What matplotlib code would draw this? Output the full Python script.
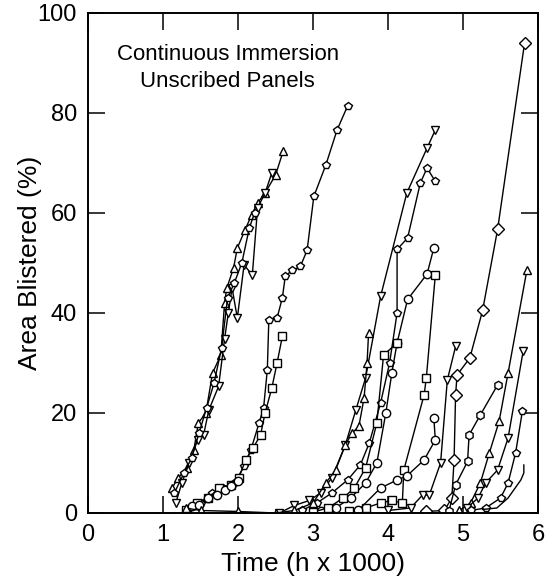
import matplotlib.pyplot as plt

plt.rcParams['font.family'] = ['Liberation Sans', 'DejaVu Sans']

# area blistered (%) vs time (h x 1000), one list pair per panel
a1_x = [1.12, 1.20, 1.32, 1.41, 1.47, 1.57, 1.66, 1.77, 1.82, 1.85, 1.94, 1.99, 2.09, 2.18, 2.26, 2.36, 2.50, 2.60]
a1_y = [5, 7, 9, 12.6, 18, 20, 28, 31.6, 42, 45, 49, 53, 56.5, 59.6, 62, 64, 67.6, 72.3]
a2_x = [1.17, 1.25, 1.35, 1.46, 1.54, 1.61, 1.74, 1.82, 1.87, 1.92, 1.99, 2.08, 2.19, 2.26, 2.36, 2.45]
a2_y = [2, 6, 10, 14.6, 15.6, 20.6, 25.3, 34.8, 40, 45, 39, 49.6, 47.6, 61, 64, 68]
a3_x = [1.15, 1.28, 1.38, 1.48, 1.58, 1.68, 1.78, 1.86, 1.95, 2.05, 2.15, 2.22]
a3_y = [4, 8, 11, 16, 21, 26, 33, 43, 46, 50, 57, 60]

b1_x = [1.35, 1.50, 1.65, 1.80, 1.95, 2.08, 2.17, 2.28, 2.34, 2.39, 2.41, 2.52, 2.59, 2.63, 2.72,
        2.83, 2.92, 3.01, 3.17, 3.32, 3.46]
b1_y = [1, 2, 4, 5, 6, 9.3, 12.6, 18, 21, 28.6, 38.6, 39, 43, 47.4, 48.5, 49.3, 52.5, 63.3, 69.6, 76.6, 81.4]
b2_x = [1.30, 1.45, 1.60, 1.75, 1.90, 2.01, 2.10, 2.20, 2.30, 2.36, 2.45, 2.52, 2.59]
b2_y = [0.5, 2, 3, 5, 5.6, 7, 10.6, 13, 15.6, 20, 25, 30, 35.3]
b3_x = [1.38, 1.48, 1.60, 1.72, 1.82, 1.90, 2.00]
b3_y = [1.3, 1.6, 3, 3.6, 4.5, 5.3, 6.3]

c1_x = [2.55, 2.75, 2.95, 3.10, 3.25, 3.43, 3.57, 3.70, 3.90, 4.25, 4.52, 4.63]
c1_y = [0, 1.5, 2.5, 4, 7, 13.6, 20.6, 27, 43.3, 64, 73, 76.6]
c2_x = [2.85, 3.05, 3.25, 3.46, 3.63, 3.75, 3.90, 4.02, 4.12, 4.12, 4.26, 4.43, 4.52, 4.63]
c2_y = [0.5, 2, 4, 6.6, 9.6, 14, 22, 30, 40, 52.7, 55, 66, 69, 66.3]
c3_x = [3.10, 3.30, 3.50, 3.70, 3.85, 3.97, 4.05, 4.12, 4.26, 4.52, 4.61]
c3_y = [0.3, 1, 3, 6, 10, 20, 28, 34, 42.7, 47.8, 53]
c4_x = [3.48, 3.70, 3.90, 4.05, 4.19, 4.21, 4.48, 4.51, 4.63]
c4_y = [0.3, 1, 2, 2.5, 2, 8.6, 23.6, 27, 47.6]
c5_x = [1.30, 1.50, 2.00, 2.50, 2.75, 3.00, 3.17, 3.30, 3.43, 3.52, 3.61, 3.68, 3.72, 3.74]
c5_y = [1, 0.5, 0.3, 0, 0.5, 2, 6, 8.6, 13.6, 16, 17.3, 23, 30, 36]
c6_x = [3.00, 3.20, 3.40, 3.55, 3.70, 3.85, 3.94, 4.12]
c6_y = [0.2, 1, 3, 5, 9, 18, 31.6, 34]

d1_x = [4.50, 4.75, 4.85, 4.88, 4.90, 4.92, 5.09, 5.26, 5.46, 5.82]
d1_y = [0.3, 0.5, 3, 10.6, 23.6, 27.6, 31, 40.5, 56.7, 94]
d2_x = [4.95, 5.10, 5.23, 5.35, 5.48, 5.60, 5.85]
d2_y = [0.5, 2, 6, 12, 18.3, 28, 48.5]
d3_x = [5.05, 5.20, 5.30, 5.46, 5.60, 5.80]
d3_y = [1, 3, 6, 8.6, 15, 32.3]
d4_x = [5.10, 5.30, 5.50, 5.60, 5.70, 5.79]
d4_y = [0.5, 1, 3, 6, 12, 20.3]
d5_x = [5.26, 5.45, 5.60, 5.77, 5.81, 5.81]
d5_y = [0.7, 1, 3, 6.6, 8, 9.6]
d6_x = [4.00, 4.30, 4.46, 4.55, 4.70, 4.79, 4.90]
d6_y = [0.5, 1, 3.6, 3.6, 10, 26.6, 33.3]
d7_x = [3.60, 3.90, 4.12, 4.25, 4.48, 4.63, 4.61]
d7_y = [0.5, 5, 6.6, 7.4, 10.6, 14.6, 19]
d8_x = [4.81, 4.90, 5.06, 5.08, 5.23, 5.46]
d8_y = [0.3, 5.6, 10.3, 15.6, 19.6, 25.6]

series = [
    (a1_x, a1_y, '^'), (a2_x, a2_y, 'v'), (a3_x, a3_y, 'p'),
    (b1_x, b1_y, 'p'), (b2_x, b2_y, 's'), (b3_x, b3_y, 'o'),
    (c1_x, c1_y, 'v'), (c2_x, c2_y, 'p'), (c3_x, c3_y, 'o'),
    (c4_x, c4_y, 's'), (c5_x, c5_y, '^'), (c6_x, c6_y, 's'),
    (d1_x, d1_y, 'D'), (d2_x, d2_y, '^'), (d3_x, d3_y, 'v'),
    (d4_x, d4_y, 'p'), (d5_x, d5_y, ''), (d6_x, d6_y, 'v'),
    (d7_x, d7_y, 'o'), (d8_x, d8_y, 'h'),
]

fig = plt.figure(figsize=(5.47, 5.84), dpi=100)
ax = fig.add_axes([0.161, 0.1216, 0.8227, 0.8562])

for xs, ys, m in series:
    ax.plot(xs, ys, color='black', lw=1.0, marker=m if m else None, ms=6,
            mfc='white', mec='black', mew=1.0)

ax.set_xlim(0, 6)
ax.set_ylim(0, 100)
ax.set_xticks(range(0, 7))
ax.set_yticks(range(0, 101, 20))
ax.tick_params(direction='in', length=12, width=1.1, top=True, right=True,
               labelsize=17, pad=8)
for s in ax.spines.values():
    s.set_linewidth(1.4)

ax.set_xlabel('Time (h x 1000)', fontsize=19, labelpad=4)
ax.set_ylabel('Area Blistered (%)', fontsize=19, labelpad=-3)

ax.text(1.86, 91.6, 'Continuous Immersion', fontsize=16, ha='center', va='center')
ax.text(1.86, 86.2, 'Unscribed Panels', fontsize=16, ha='center', va='center')

fig.savefig('out.png', dpi=100)
